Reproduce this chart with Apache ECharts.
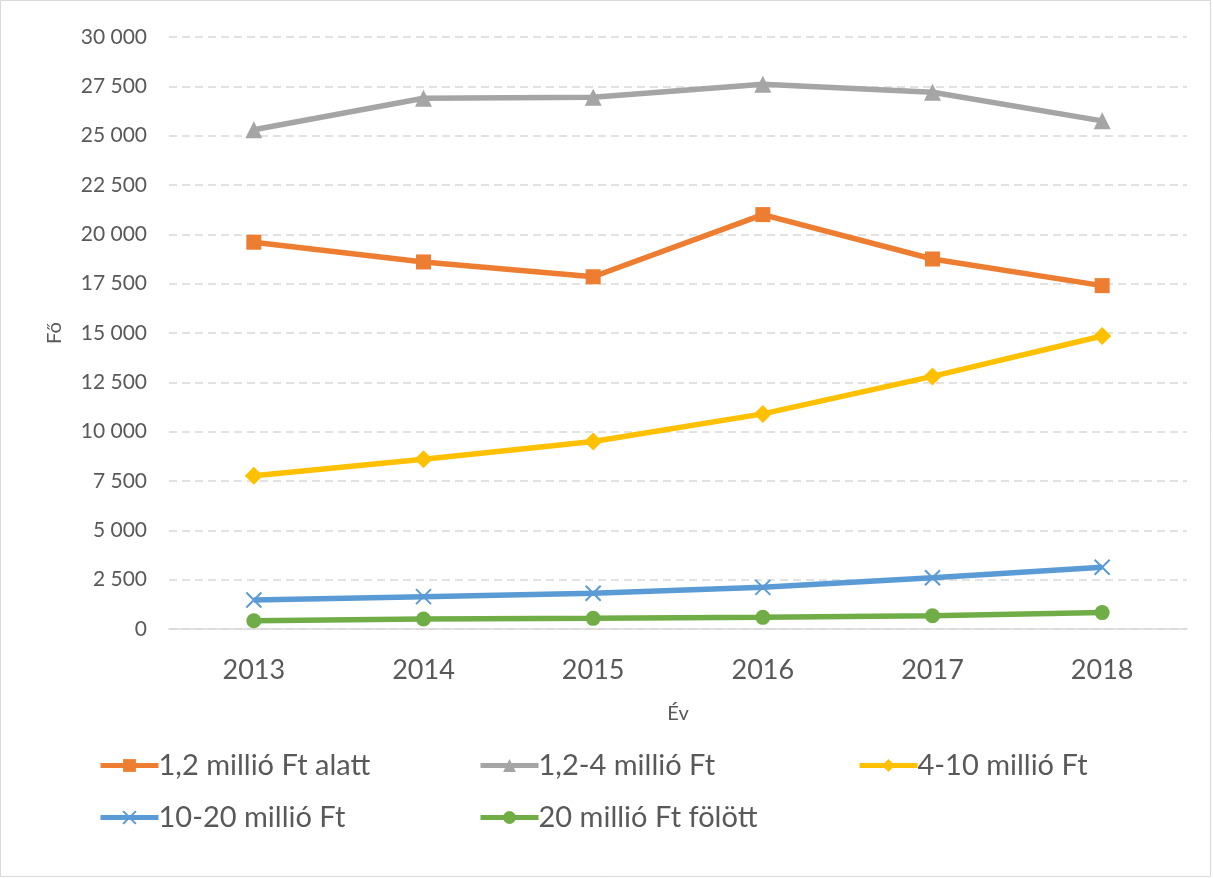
<!DOCTYPE html>
<html><head><meta charset="utf-8">
<script src="https://cdn.jsdelivr.net/npm/echarts@6/dist/echarts.min.js"></script>
<style>html,body{margin:0;padding:0;background:#fff}#c{width:1213px;height:879px}</style>
</head><body><div id="c"></div>
<script>
const categories = ['2013','2014','2015','2016','2017','2018'];
const seriesNames = ['1,2 millió Ft alatt','1,2-4 millió Ft','4-10 millió Ft','10-20 millió Ft','20 millió Ft fölött'];
const under12 = [19600, 18600, 17850, 21000, 18750, 17400];
const from12to4 = [25300, 26900, 26950, 27600, 27200, 25750];
const from4to10 = [7770, 8600, 9500, 10900, 12800, 14850];
const from10to20 = [1470, 1640, 1810, 2110, 2600, 3130];
const over20 = [420, 510, 540, 590, 670, 830];
const yTicks = [0, 2500, 5000, 7500, 10000, 12500, 15000, 17500, 20000, 22500, 25000, 27500, 30000];

const colors = ['#ED7D31','#A5A5A5','#FFC000','#5B9BD5','#70AD47'];
const symbols = ['rect','triangle','diamond','path://M0,0L10,10M10,0L0,10','circle'];
const sizes = [15, 17, 18, 15, 15];
const datas = [under12, from12to4, from4to10, from10to20, over20];
const font = 'Lato, "Liberation Sans", sans-serif';
const textColor = '#595959';

const chart = echarts.init(document.getElementById('c'));
const series = datas.map((d, i) => ({
  name: seriesNames[i], type: 'line', data: d,
  symbol: symbols[i], symbolSize: sizes[i],
  lineStyle: {width: 5.5, color: colors[i]},
  itemStyle: i === 3 ? {color: 'rgba(0,0,0,0)', borderColor: colors[i], borderWidth: 2} : {color: colors[i]},
  color: colors[i],
  z: 10 - i
}));
const legendPos = [[93, 746], [473, 746], [852, 746], [93, 798], [473, 798]];
const legends = seriesNames.map((n, i) => ({
  data: [n], left: legendPos[i][0], top: legendPos[i][1],
  itemWidth: 58, itemHeight: 16, itemGap: 0,
  lineStyle: {width: 5},
  textStyle: {fontSize: 29, color: textColor, fontFamily: font, padding: [0,0,0,-5]},
  selectedMode: false
}));
chart.setOption({
  animation: false,
  backgroundColor: '#fff',
  graphic: [{type: 'rect', shape: {x: 0.5, y: 0.5, width: 1210, height: 876}, style: {fill: 'none', stroke: '#d9d9d9', lineWidth: 1}, silent: true}],
  grid: {left: 169, right: 26, top: 37, bottom: 250},
  legend: legends,
  xAxis: {
    type: 'category', data: categories, boundaryGap: true,
    name: 'Év', nameLocation: 'middle', nameGap: 75,
    nameTextStyle: {fontSize: 20, color: textColor, fontFamily: font},
    axisLine: {lineStyle: {color: '#d9d9d9', width: 1.5}},
    axisTick: {show: false},
    axisLabel: {fontSize: 27, color: textColor, fontFamily: font, margin: 28}
  },
  yAxis: {
    type: 'value', min: 0, max: 30000, interval: 2500,
    name: 'Fő', nameLocation: 'middle', nameGap: 104, nameRotate: 90,
    nameTextStyle: {fontSize: 20, color: textColor, fontFamily: font},
    axisLine: {show: false}, axisTick: {show: false},
    splitLine: {lineStyle: {color: '#d9d9d9', type: [8, 5], width: 1.5}},
    axisLabel: {fontSize: 21, color: textColor, fontFamily: font, margin: 22,
      formatter: v => yTicks.includes(v) ? String(v).replace(/\B(?=(\d{3})+(?!\d))/g, ' ') : ''}
  },
  series: series
});
</script></body></html>
